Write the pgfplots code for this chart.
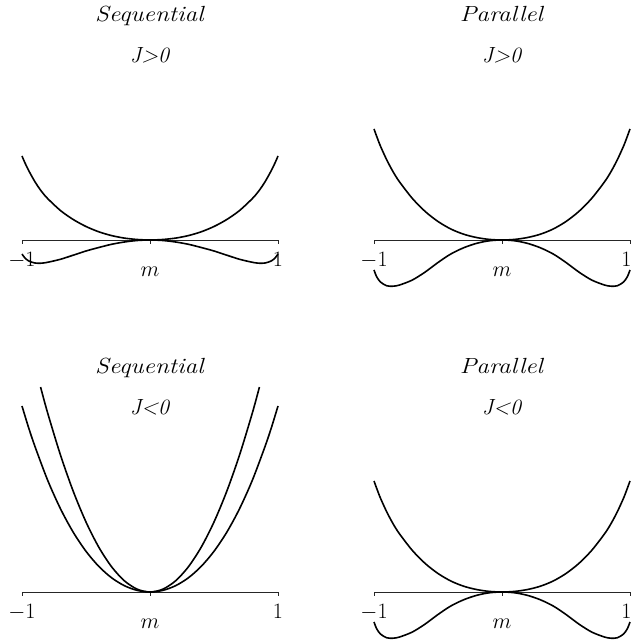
\RequirePackage{fix-cm}
\documentclass[border=0pt]{standalone}
\usepackage{pgfplots}
\pgfplotsset{compat=1.18}

% one panel: m on [-1,1], vertical unit 1bp, axis line through the origin
\pgfplotsset{
  panel/.style={
    x=128bp, y=1bp,
    xmin=-1, xmax=1, ymin=-50, ymax=210,
    anchor=origin, clip=false,
    axis x line=middle, axis y line=none,
    axis line style={-, line width=0.6bp, black!85},
    xtick={-1,0,1}, xticklabels={,,},
    tick align=outside, major tick length=4bp,
    every tick/.style={black!85, line width=0.6bp},
  },
  curve/.style={black, line width=1.6bp, smooth, mark=none},
}
\newcommand{\lbl}{\fontsize{22}{26}\selectfont}
\newcommand{\ttl}[1]{\scalebox{1.15}[1]{\lbl\textit{#1}}}

\begin{document}
\begin{tikzpicture}
\useasboundingbox (0,0) rectangle (632bp,640bp);

% ---- sequential dynamics, J > 0
\begin{axis}[panel, at={(150bp,400bp)}]
\addplot[curve] coordinates {(-1,84) (-0.98,78) (-0.95,70) (-0.9,58.5) (-0.85,49) (-0.8,41.5) (-0.7,29.5) (-0.6,20.5) (-0.5,13.5) (-0.4,8.2) (-0.3,4.4) (-0.2,1.9) (-0.1,0.5) (0,0)
  (0.1,0.5) (0.2,1.9) (0.3,4.4) (0.4,8.2) (0.5,13.5) (0.6,20.5) (0.7,29.5) (0.8,41.5) (0.85,49) (0.9,58.5) (0.95,70) (0.98,78) (1,84)};
\addplot[curve] coordinates {(-1,-14) (-0.98,-17.5) (-0.95,-20.8) (-0.9,-23) (-0.85,-23.2) (-0.8,-22.3) (-0.7,-19.3) (-0.6,-15.2) (-0.5,-11) (-0.4,-7.5) (-0.3,-4.3) (-0.2,-2) (-0.1,-0.5) (0,0)
  (0.1,-0.5) (0.2,-2) (0.3,-4.3) (0.4,-7.5) (0.5,-11) (0.6,-15.2) (0.7,-19.3) (0.8,-22.3) (0.85,-23.2) (0.9,-23) (0.95,-20.8) (0.98,-17.5) (1,-14)};
\node[anchor=base] at (axis cs:0,218) {\ttl{Sequential}};
\node[anchor=base] at (axis cs:0,177) {\lbl\textit{J>0}};
\node[anchor=base] at (axis cs:-1,-27) {\lbl$-1$};
\node[anchor=base] at (axis cs:1,-27) {\lbl$1$};
\node[anchor=base] at (axis cs:0,-37) {\lbl$m$};
\end{axis}

% ---- parallel dynamics, J > 0
\begin{axis}[panel, at={(502bp,400bp)}]
\addplot[curve] coordinates {(-1,111) (-0.98,104) (-0.95,94) (-0.9,80) (-0.85,68) (-0.8,58) (-0.7,41.5) (-0.6,28.5) (-0.5,18.5) (-0.4,11) (-0.3,5.8) (-0.2,2.5) (-0.1,0.6) (0,0)
  (0.1,0.6) (0.2,2.5) (0.3,5.8) (0.4,11) (0.5,18.5) (0.6,28.5) (0.7,41.5) (0.8,58) (0.85,68) (0.9,80) (0.95,94) (0.98,104) (1,111)};
\addplot[curve] coordinates {(-1,-30) (-0.98,-36.5) (-0.95,-42) (-0.9,-45.8) (-0.85,-46.2) (-0.8,-45) (-0.7,-40) (-0.6,-32) (-0.5,-22.5) (-0.4,-14) (-0.3,-7.8) (-0.2,-3.4) (-0.1,-0.8) (0,0)
  (0.1,-0.8) (0.2,-3.4) (0.3,-7.8) (0.4,-14) (0.5,-22.5) (0.6,-32) (0.7,-40) (0.8,-45) (0.85,-46.2) (0.9,-45.8) (0.95,-42) (0.98,-36.5) (1,-30)};
\node[anchor=base] at (axis cs:0,218) {\ttl{Parallel}};
\node[anchor=base] at (axis cs:0,177) {\lbl\textit{J>0}};
\node[anchor=base] at (axis cs:-1,-27) {\lbl$-1$};
\node[anchor=base east, inner sep=0pt, xshift=1.5bp] at (axis cs:1,-27) {\lbl$1$};
\node[anchor=base] at (axis cs:0,-37) {\lbl$m$};
\end{axis}

% ---- sequential dynamics, J < 0
\begin{axis}[panel, at={(150bp,48bp)}]
\addplot[curve] coordinates {(-1,186) (-0.95,165) (-0.9,146) (-0.8,111.9) (-0.7,83.4) (-0.6,59.8) (-0.5,40.7) (-0.4,25.6) (-0.3,14.2) (-0.2,6.3) (-0.1,1.6) (0,0)
  (0.1,1.6) (0.2,6.3) (0.3,14.2) (0.4,25.6) (0.5,40.7) (0.6,59.8) (0.7,83.4) (0.8,111.9) (0.9,146) (0.95,165) (1,186)};
\addplot[curve] coordinates {(-0.855,205) (-0.8,179.2) (-0.7,137.2) (-0.6,100.8) (-0.5,70) (-0.4,44.8) (-0.3,25.2) (-0.2,11.2) (-0.1,2.8) (0,0)
  (0.1,2.8) (0.2,11.2) (0.3,25.2) (0.4,44.8) (0.5,70) (0.6,100.8) (0.7,137.2) (0.8,179.2) (0.855,205)};
\node[anchor=base] at (axis cs:0,218) {\ttl{Sequential}};
\node[anchor=base] at (axis cs:0,177) {\lbl\textit{J<0}};
\node[anchor=base] at (axis cs:-1,-27) {\lbl$-1$};
\node[anchor=base] at (axis cs:1,-27) {\lbl$1$};
\node[anchor=base] at (axis cs:0,-37) {\lbl$m$};
\end{axis}

% ---- parallel dynamics, J < 0
\begin{axis}[panel, at={(502bp,48bp)}]
\addplot[curve] coordinates {(-1,111) (-0.98,104) (-0.95,94) (-0.9,80) (-0.85,68) (-0.8,58) (-0.7,41.5) (-0.6,28.5) (-0.5,18.5) (-0.4,11) (-0.3,5.8) (-0.2,2.5) (-0.1,0.6) (0,0)
  (0.1,0.6) (0.2,2.5) (0.3,5.8) (0.4,11) (0.5,18.5) (0.6,28.5) (0.7,41.5) (0.8,58) (0.85,68) (0.9,80) (0.95,94) (0.98,104) (1,111)};
\addplot[curve] coordinates {(-1,-30) (-0.98,-36.5) (-0.95,-42) (-0.9,-45.8) (-0.85,-46.2) (-0.8,-45) (-0.7,-40) (-0.6,-32) (-0.5,-22.5) (-0.4,-14) (-0.3,-7.8) (-0.2,-3.4) (-0.1,-0.8) (0,0)
  (0.1,-0.8) (0.2,-3.4) (0.3,-7.8) (0.4,-14) (0.5,-22.5) (0.6,-32) (0.7,-40) (0.8,-45) (0.85,-46.2) (0.9,-45.8) (0.95,-42) (0.98,-36.5) (1,-30)};
\node[anchor=base] at (axis cs:0,218) {\ttl{Parallel}};
\node[anchor=base] at (axis cs:0,177) {\lbl\textit{J<0}};
\node[anchor=base] at (axis cs:-1,-27) {\lbl$-1$};
\node[anchor=base east, inner sep=0pt, xshift=1.5bp] at (axis cs:1,-27) {\lbl$1$};
\node[anchor=base] at (axis cs:0,-37) {\lbl$m$};
\end{axis}
\end{tikzpicture}
\end{document}
